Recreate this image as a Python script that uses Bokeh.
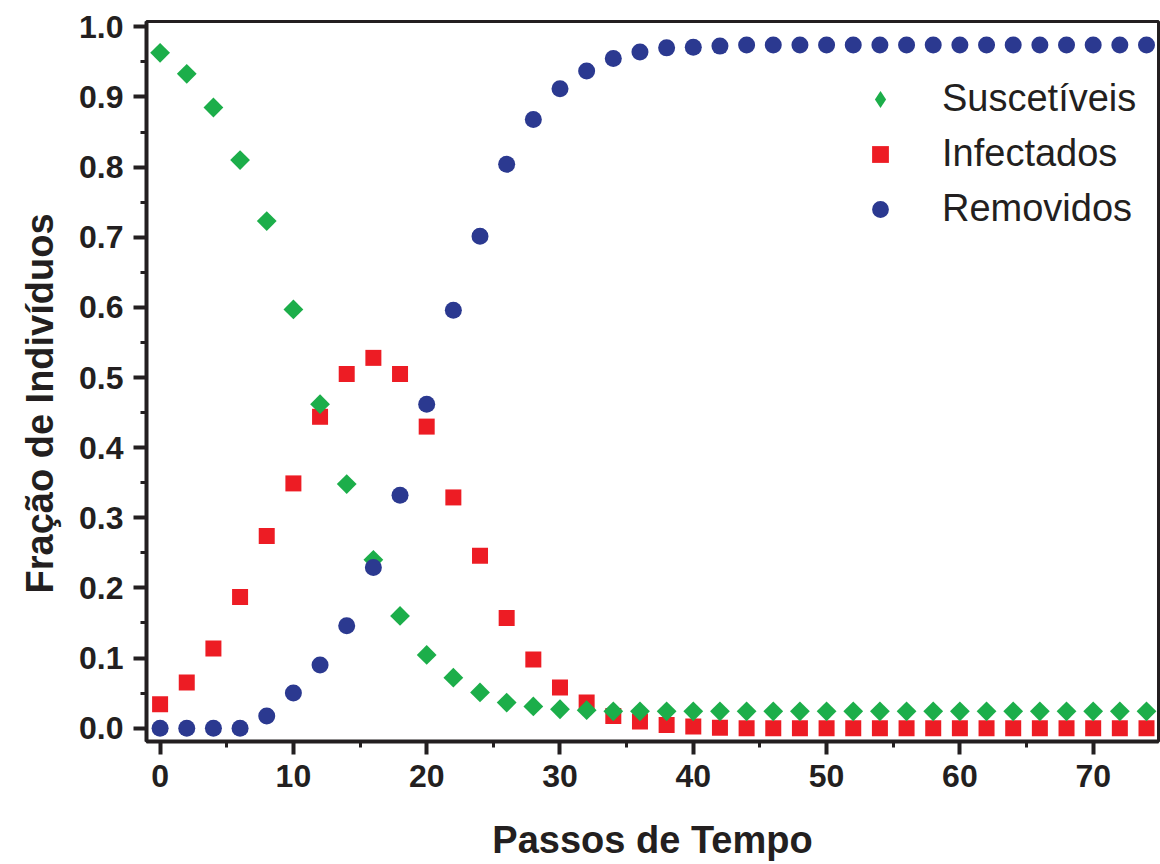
from bokeh.plotting import figure
from bokeh.models import (Range1d, SingleIntervalTicker, PrintfTickFormatter, Legend, LegendItem,
                          ColumnDataSource, Title)
from bokeh.embed import file_html
from bokeh.resources import INLINE
import math

# ---- data ----
steps = list(range(0, 76, 2))
suscetiveis = [0.963, 0.933, 0.885, 0.810, 0.723, 0.597, 0.462, 0.348, 0.240, 0.160,
               0.1045, 0.072, 0.051, 0.0365, 0.031, 0.027, 0.0257, 0.024, 0.024, 0.024,
               0.024, 0.024, 0.024, 0.024, 0.024, 0.024, 0.024, 0.024, 0.024, 0.024,
               0.024, 0.024, 0.024, 0.024, 0.024, 0.024, 0.024, 0.024]
infectados = [0.034, 0.065, 0.1135, 0.187, 0.274, 0.349, 0.444, 0.505, 0.528, 0.505,
              0.430, 0.329, 0.246, 0.157, 0.098, 0.058, 0.0365, 0.0175, 0.0095, 0.0047,
              0.0023, 0.0005, 0.0, 0.0, 0.0, 0.0, 0.0, 0.0, 0.0, 0.0,
              0.0, 0.0, 0.0, 0.0, 0.0, 0.0, 0.0, 0.0]
removidos = [0.0, 0.0, 0.0, 0.0, 0.0175, 0.050, 0.090, 0.146, 0.229, 0.332,
             0.462, 0.596, 0.7015, 0.804, 0.868, 0.9116, 0.937, 0.955, 0.964, 0.970,
             0.971, 0.9725, 0.974, 0.974, 0.974, 0.974, 0.974, 0.974, 0.974, 0.974,
             0.974, 0.974, 0.974, 0.974, 0.974, 0.974, 0.974, 0.974]
series_names = ["Suscetíveis", "Infectados", "Removidos"]
x_title = "Passos de Tempo"
y_title = "Fração de Indivíduos"

GREEN = "#1CAE4A"
RED = "#ED1C24"
BLUE = "#2B3990"
INK = "#231F20"

n = min(len(steps), len(suscetiveis), len(infectados), len(removidos))
src = ColumnDataSource(dict(x=steps[:n], s=suscetiveis[:n], i=infectados[:n], r=removidos[:n]))

p = figure(width=1160, height=864, output_backend="svg", toolbar_location=None,
           x_range=Range1d(-1.02, 74.9), y_range=Range1d(-0.019, 1.0076),
           min_border_left=146, min_border_right=2, min_border_top=21, min_border_bottom=123)
p.background_fill_color = "white"
p.border_fill_color = "white"
p.xgrid.visible = False
p.ygrid.visible = False
p.outline_line_color = INK
p.outline_line_width = 3

r_inf = p.scatter("x", "i", source=src, marker="square", size=16, color=RED, line_color=None)
r_sus = p.scatter("x", "s", source=src, marker="square", size=14, angle=math.pi / 4,
                  color=GREEN, line_color=None)
r_rem = p.scatter("x", "r", source=src, marker="circle", size=17, color=BLUE, line_color=None)
# legend-only swatch (legend glyphs are never rotated, so use a diamond marker there)
r_sus_key = p.scatter("x", "s", source=src, marker="diamond", size=20, color=GREEN,
                      line_color=None, visible=False)

for ax, ticker in ((p.xaxis[0], SingleIntervalTicker(interval=10, num_minor_ticks=2)),
                   (p.yaxis[0], SingleIntervalTicker(interval=0.1, num_minor_ticks=2))):
    ax.ticker = ticker
    ax.axis_line_width = 4
    ax.axis_line_color = INK
    ax.major_tick_line_width = 4
    ax.minor_tick_line_width = 3
    ax.major_tick_line_color = INK
    ax.minor_tick_line_color = INK
    ax.major_tick_in = 0
    ax.minor_tick_in = 0
    ax.major_tick_out = 13
    ax.minor_tick_out = 6
    ax.major_label_text_font = "Liberation Sans"
    ax.major_label_text_font_style = "bold"
    ax.major_label_text_font_size = "32px"
    ax.major_label_text_color = INK

p.yaxis[0].formatter = PrintfTickFormatter(format="%.1f")
p.yaxis[0].major_label_standoff = 10
p.xaxis[0].major_label_standoff = 10

p.xaxis[0].axis_label = x_title
p.xaxis[0].axis_label_text_font = "Liberation Sans"
p.xaxis[0].axis_label_text_font_style = "bold"
p.xaxis[0].axis_label_text_font_size = "38px"
p.xaxis[0].axis_label_text_color = INK
p.xaxis[0].axis_label_standoff = 29

ytitle = Title(text=y_title, align="left", offset=148, standoff=31,
               text_font="Liberation Sans", text_font_style="bold", text_font_size="38px",
               text_color=INK)
p.add_layout(ytitle, "left")

legend = Legend(items=[LegendItem(label=series_names[0], renderers=[r_sus_key]),
                       LegendItem(label=series_names[1], renderers=[r_inf]),
                       LegendItem(label=series_names[2], renderers=[r_rem])],
                location=(713, 511), padding=0, margin=0, spacing=12,
                glyph_width=42, glyph_height=42, label_standoff=41, label_height=42,
                label_text_font="Liberation Sans", label_text_font_size="38px",
                label_text_color=INK, border_line_color=None, background_fill_alpha=0)
p.add_layout(legend)

open("out.html", "w").write(file_html(p, INLINE))
